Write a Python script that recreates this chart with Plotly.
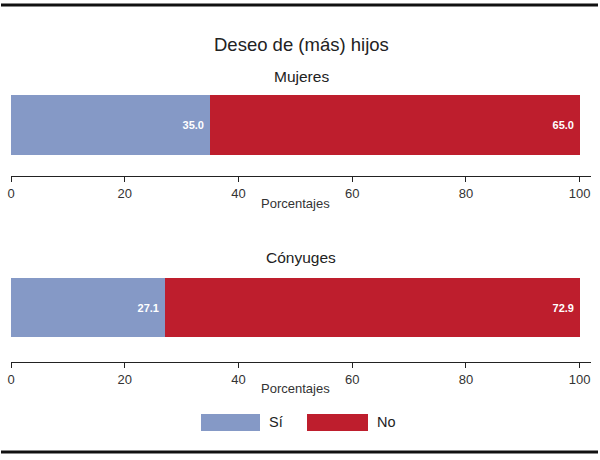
import plotly.graph_objects as go

title = "Deseo de (más) hijos"
groups = ["Mujeres", "Cónyuges"]
series = ["Sí", "No"]
si_vals = [35.0, 27.1]
no_vals = [65.0, 72.9]
colors = ["#8599C6", "#BE1E2D"]
x_ticks = [0, 20, 40, 60, 80, 100]
x_title = "Porcentajes"

W, H = 600, 460
ML, MR = 11, 9
PW = W - ML - MR
FONT = "Liberation Sans, Arial, sans-serif"

def px(p):
    return (p - ML) / PW

def py(p):
    return (H - p) / H

fig = go.Figure()

panels = [
    dict(top=90, bottom=176, rng=[-0.85, 0.5833], title_y=76, at_y=203),
    dict(top=273, bottom=362, rng=[-0.9237, 0.5847], title_y=257, at_y=388),
]

for i, g in enumerate(groups):
    xa = "x" if i == 0 else f"x{i+1}"
    ya = "y" if i == 0 else f"y{i+1}"
    vals = [si_vals[i], no_vals[i]]
    base = 0
    for s, v, c in zip(series, vals, colors):
        fig.add_trace(go.Bar(
            x=[v], y=[0], base=[base], orientation="h", width=1,
            marker=dict(color=c, line=dict(width=0)),
            text=[f"{v:.1f}\u00a0"], textposition="inside", insidetextanchor="end",
            textfont=dict(color="white", size=11, family=FONT, weight="bold"),
            xaxis=xa, yaxis=ya, showlegend=False, name=s, hoverinfo="skip",
        ))
        base += v
    p = panels[i]
    axkey = "xaxis" if i == 0 else f"xaxis{i+1}"
    aykey = "yaxis" if i == 0 else f"yaxis{i+1}"
    fig.update_layout(**{
        axkey: dict(
            domain=[0, 1], anchor=ya, range=[0, 102],
            tickvals=x_ticks, ticktext=[str(t) for t in x_ticks],
            showline=True, linecolor="#222", linewidth=1,
            ticks="outside", ticklen=5, tickcolor="#222", tickwidth=1,
            showgrid=False, zeroline=False,
            tickfont=dict(size=13, color="#333", family=FONT),
            fixedrange=True,
        ),
        aykey: dict(
            domain=[py(p["bottom"]), py(p["top"])], anchor=xa,
            range=p["rng"], visible=False, fixedrange=True,
        ),
    })
    fig.add_annotation(text=g, x=0.5, y=py(p["title_y"]), xref="paper", yref="paper",
                       showarrow=False, yanchor="middle",
                       font=dict(size=15.5, color="#222", family=FONT))
    fig.add_annotation(text=x_title, x=px(295), y=py(p["at_y"]), xref="paper", yref="paper",
                       showarrow=False, yanchor="middle",
                       font=dict(size=13, color="#333", family=FONT))

fig.add_annotation(text=title, x=0.5, y=py(45), xref="paper", yref="paper",
                   showarrow=False, yanchor="middle",
                   font=dict(size=18.5, color="#222", family=FONT))

for yy in (5, 452):
    fig.add_shape(type="line", xref="paper", yref="paper",
                  x0=px(1), x1=px(598), y0=py(yy), y1=py(yy),
                  line=dict(color="#111", width=3))

leg = [(201, 260, 267), (307, 368, 375)]
for (x0, x1, tx), s, c in zip(leg, series, colors):
    fig.add_shape(type="rect", xref="paper", yref="paper",
                  x0=px(x0), x1=px(x1), y0=py(431), y1=py(414),
                  fillcolor=c, line=dict(width=0))
    fig.add_annotation(text=s, x=px(tx), y=py(422), xref="paper", yref="paper",
                       showarrow=False, xanchor="left", yanchor="middle",
                       font=dict(size=14.5, color="#222", family=FONT))

fig.update_layout(
    width=W, height=H,
    margin=dict(l=ML, r=MR, t=0, b=0),
    paper_bgcolor="white", plot_bgcolor="white",
    barmode="overlay", bargap=0,
    showlegend=False,
)

fig.write_html("out.html", config={"displayModeBar": False},
               post_script="document.body.style.margin='0';document.body.style.overflow='hidden';")
